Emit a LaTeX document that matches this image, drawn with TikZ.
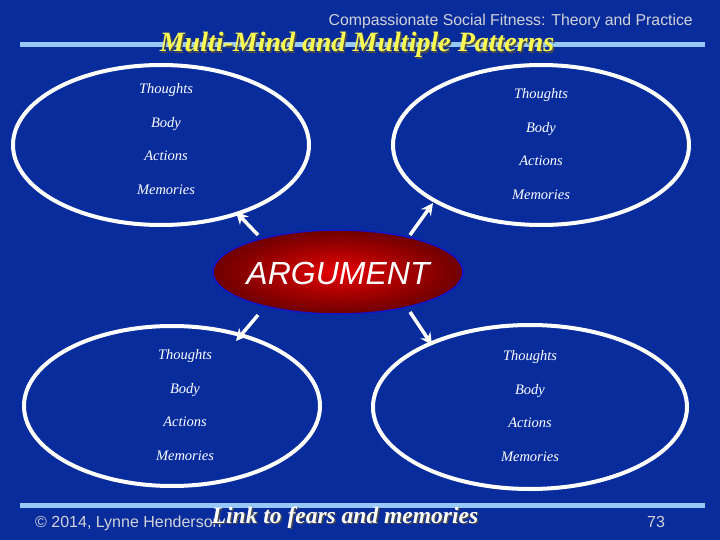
\documentclass[tikz,border=0pt]{standalone}
\usepackage{fontspec}
\setmainfont{Liberation Serif}
\setsansfont{Liberation Sans}
\usetikzlibrary{shapes.geometric,arrows.meta,shadows}
\definecolor{bgblue}{RGB}{8,44,156}
\definecolor{rulecol}{RGB}{150,200,250}
\definecolor{titleyel}{RGB}{250,250,80}
\definecolor{graytxt}{RGB}{210,210,215}
\definecolor{argred}{RGB}{230,0,0}
\definecolor{argdark}{RGB}{110,0,0}
\definecolor{argborder}{RGB}{20,20,200}
\tikzset{
  item/.style={text=white,font=\fontsize{14.5}{14}\selectfont\itshape,anchor=base},
  argarrow/.style={draw=white,line width=3.5pt,-{Stealth[length=12pt,width=12pt]}},
  rulebar/.style={draw=rulecol,line width=5pt},
  mindline/.style={white,line width=4pt}
}
\begin{document}
\begin{tikzpicture}[x=1pt,y=-1pt]
\fill[bgblue] (0,0) rectangle (720,540);
\useasboundingbox (0,0) rectangle (720,540);
% rules
\coordinate (r1a) at (20,45); \coordinate (r1b) at (705,45);
\coordinate (r2a) at (20,505); \coordinate (r2b) at (705,505);
\draw[rulebar] (r1a) -- (r1b);
\draw[rulebar] (r2a) -- (r2b);
% header
\node[anchor=base east,text=graytxt,font=\sffamily\fontsize{15.8}{15}\selectfont,inner sep=0] (hdr) at (693,26) {Compassionate Social Fitness: Theory and Practice};
\node[anchor=base,text=black!70,font=\fontsize{28}{28}\selectfont\bfseries\itshape,inner sep=0] at (358.5,53.5) {Multi-Mind and Multiple Patterns};
\node[anchor=base,text=titleyel,font=\fontsize{28}{28}\selectfont\bfseries\itshape,inner sep=0] (title) at (357,52) {Multi-Mind and Multiple Patterns};
% ellipses
\draw[mindline] (161,145) ellipse [x radius=148,y radius=80];
\node[minimum size=0,inner sep=0] (e1) at (161,145) {};
\draw[mindline] (541,145) ellipse [x radius=148,y radius=80];
\node[minimum size=0,inner sep=0] (e2) at (541,145) {};
\draw[mindline] (172,406) ellipse [x radius=148,y radius=80];
\node[minimum size=0,inner sep=0] (e3) at (172,406) {};
\draw[mindline] (530,407) ellipse [x radius=157,y radius=82];
\node[minimum size=0,inner sep=0] (e4) at (530,407) {};
% items
\foreach \x/\y [count=\i] in {166/94,541/99,185/359,530/360}{
  \node[item] at (\x,\y) {Thoughts};
  \node[item] at (\x,\y+34) {Body};
  \node[item] at (\x,\y+67) {Actions};
  \node[item] at (\x,\y+101) {Memories};
}
% argument
\node[ellipse,minimum width=250pt,minimum height=84pt,inner sep=0,draw=argborder,line width=1.5pt,inner color=argred,outer color=argdark] (arg) at (338,272) {};
\node[text=white,font=\sffamily\itshape\fontsize{32}{32}\selectfont,inner sep=0] (argtxt) at (338,273) {ARGUMENT};
% arrows
\coordinate (t1) at (258,235); \coordinate (h1) at (236,212);
\coordinate (t2) at (410,235); \coordinate (h2) at (433,203);
\coordinate (t3) at (258,315); \coordinate (h3) at (236,341);
\coordinate (t4) at (410,312); \coordinate (h4) at (432,345);
\draw[argarrow] (t1) -- (h1);
\draw[argarrow] (t2) -- (h2);
\draw[argarrow] (t3) -- (h3);
\draw[argarrow] (t4) -- (h4);
% footer
\node[anchor=base west,text=graytxt,font=\sffamily\fontsize{16}{16}\selectfont,inner sep=0] (copy) at (35,527) {© 2014, Lynne Henderson};
\node[anchor=base,text=black!70,font=\fontsize{23.5}{23}\selectfont\bfseries\itshape,inner sep=0] at (346.5,524.5) {Link to fears and memories};
\node[anchor=base,text=white,font=\fontsize{23.5}{23}\selectfont\bfseries\itshape,inner sep=0] (link) at (345,523) {Link to fears and memories};
\node[anchor=base,text=graytxt,font=\sffamily\fontsize{16}{16}\selectfont,inner sep=0] (pg) at (656,527) {73};
\end{tikzpicture}
\end{document}
